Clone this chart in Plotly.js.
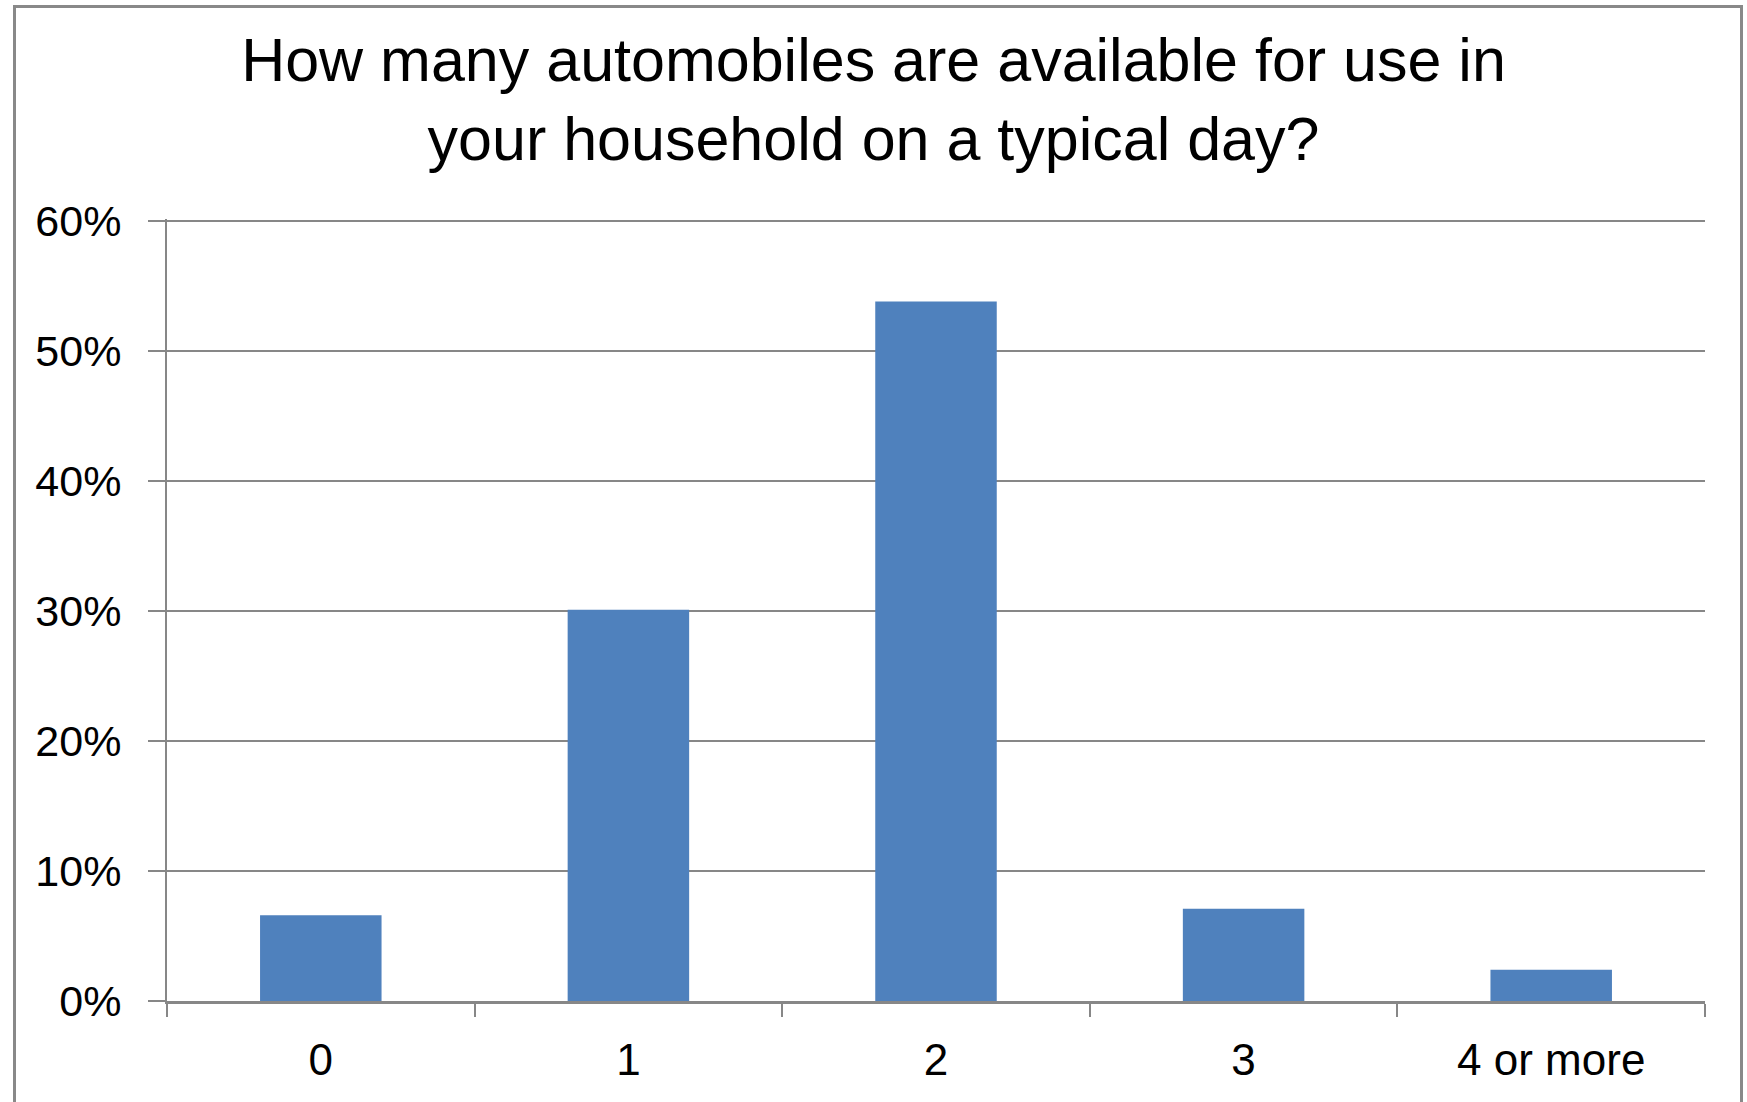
<!DOCTYPE html>
<html>
<head>
<meta charset="utf-8">
<script src="https://cdn.plot.ly/plotly-3.0.1.min.js"></script>
<style>
  html, body { margin: 0; padding: 0; background: #ffffff; }
  #wrap { position: relative; width: 1747px; height: 1102px; overflow: hidden; }
  #chart { position: absolute; left: 0; top: 0; width: 1747px; height: 1102px; }
  #frame { position: absolute; left: 13px; top: 5px; width: 1724px; height: 1200px;
           border: 3px solid #898989; pointer-events: none; }
</style>
</head>
<body>
<div id="wrap">
  <div id="chart"></div>
  <div id="frame"></div>
</div>
<script>
const titleText = 'How many automobiles are available for use in<br>your household on a typical day?';
const categories = ['0', '1', '2', '3', '4 or more'];
const shares = [0.066, 0.301, 0.538, 0.071, 0.024];
const yTickValues = [0, 0.1, 0.2, 0.3, 0.4, 0.5, 0.6];

const gridGray = '#878787';
const barBlue = '#4F81BD';
const fontFamily = '"Liberation Sans", Arial, sans-serif';

const trace = {
  type: 'bar',
  x: categories,
  y: shares,
  marker: { color: barBlue, line: { width: 0 } },
  hoverinfo: 'x+y'
};

const layout = {
  width: 1747,
  height: 1102,
  margin: { l: 167, r: 42, t: 219, b: 101, pad: 0 },
  paper_bgcolor: 'rgba(0,0,0,0)',
  plot_bgcolor: 'rgba(0,0,0,0)',
  showlegend: false,
  bargap: 0.605,
  font: { family: fontFamily, color: '#000000' },
  title: {
    text: titleText,
    font: { family: fontFamily, size: 61, color: '#000000' },
    xref: 'container', x: 0.5, xanchor: 'center',
    yref: 'container', y: 1 - 81 / 1102, yanchor: 'top'
  },
  xaxis: {
    type: 'category',
    tickson: 'boundaries',
    ticks: 'outside',
    ticklen: 13,
    tickwidth: 2,
    tickcolor: gridGray,
    showline: true,
    linecolor: gridGray,
    linewidth: 3,
    showgrid: false,
    zeroline: false,
    tickfont: { family: fontFamily, size: 44, color: '#000000' },
    ticklabelstandoff: 18
  },
  yaxis: {
    range: [0, 0.6015],
    tickvals: yTickValues,
    tickformat: '.0%',
    ticks: 'outside',
    ticklen: 17,
    tickwidth: 2.5,
    tickcolor: gridGray,
    showline: true,
    linecolor: gridGray,
    linewidth: 2,
    showgrid: true,
    gridcolor: gridGray,
    gridwidth: 2.5,
    zeroline: false,
    tickfont: { family: fontFamily, size: 43, color: '#000000' },
    ticklabelstandoff: 18
  }
};

Plotly.newPlot('chart', [trace], layout, { displayModeBar: false, staticPlot: true });
</script>
</body>
</html>
